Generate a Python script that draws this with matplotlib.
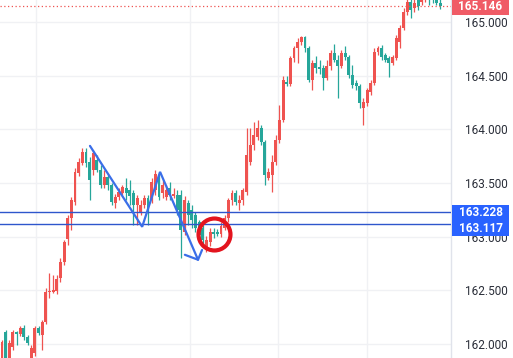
import matplotlib
matplotlib.use("Agg")
import matplotlib.pyplot as plt
import numpy as np
from matplotlib.transforms import blended_transform_factory
from matplotlib.patches import Rectangle

# ---------------- data (prices) ----------------
opens = [161.868, 162.111, 161.868, 161.971, 162.111, 162.092, 162.148, 162.064, 161.868, 161.915,
         162.148, 162.083, 162.204, 162.484, 162.484, 162.493, 162.614, 162.763, 162.978, 163.173,
         163.322, 163.593, 163.686, 163.788, 163.695, 163.621, 163.714, 163.621, 163.481, 163.555,
         163.481, 163.313, 163.369, 163.406, 163.453, 163.434, 163.406, 163.294, 163.229, 163.294,
         163.360, 163.341, 163.434, 163.565, 163.406, 163.369, 163.453, 163.378, 163.388, 163.388,
         163.043, 163.313, 163.248, 163.201, 163.136, 163.080, 162.894, 162.950, 163.043, 163.043,
         163.024, 163.080, 163.173, 163.341, 163.406, 163.313, 163.341, 163.416, 163.695, 163.854,
         163.928, 164.012, 163.882, 163.546, 163.574, 163.695, 163.900, 164.087, 164.441, 164.422,
         164.665, 164.758, 164.814, 164.860, 164.758, 164.459, 164.618, 164.581, 164.571, 164.478,
         164.590, 164.711, 164.646, 164.590, 164.711, 164.674, 164.506, 164.431, 164.404, 164.198,
         164.245, 164.348, 164.431, 164.720, 164.758, 164.693, 164.665, 164.618, 164.665, 164.814,
         164.944, 165.093, 165.186, 165.130, 165.205, 165.186, 165.252, 165.280, 165.233, 165.205,
         165.177]
closes = [162.018, 161.868, 162.008, 162.111, 162.092, 162.148, 162.064, 162.008, 161.962, 162.148,
          162.101, 162.204, 162.484, 162.493, 162.502, 162.605, 162.763, 162.950, 163.173, 163.341,
          163.602, 163.695, 163.788, 163.686, 163.527, 163.779, 163.621, 163.481, 163.555, 163.481,
          163.322, 163.369, 163.416, 163.462, 163.406, 163.378, 163.294, 163.360, 163.294, 163.360,
          163.229, 163.509, 163.583, 163.369, 163.481, 163.434, 163.388, 163.397, 163.248, 163.061,
          163.341, 163.201, 163.154, 163.080, 163.015, 162.968, 162.968, 163.043, 163.024, 163.024,
          163.098, 163.173, 163.341, 163.406, 163.322, 163.341, 163.434, 163.761, 163.854, 163.947,
          164.012, 163.882, 163.574, 163.602, 163.695, 163.900, 164.087, 164.459, 164.422, 164.665,
          164.758, 164.814, 164.860, 164.758, 164.459, 164.618, 164.571, 164.562, 164.478, 164.590,
          164.711, 164.646, 164.590, 164.711, 164.674, 164.506, 164.413, 164.404, 164.245, 164.254,
          164.366, 164.431, 164.720, 164.758, 164.674, 164.646, 164.618, 164.674, 164.851, 164.944,
          165.093, 165.186, 165.112, 165.177, 165.149, 165.205, 165.280, 165.224, 165.205, 165.177,
          165.146]
highs = [162.036, 162.129, 162.036, 162.129, 162.120, 162.167, 162.176, 162.083, 161.990, 162.167,
         162.167, 162.222, 162.521, 162.661, 162.642, 162.642, 162.800, 162.968, 163.201, 163.369,
         163.639, 163.733, 163.826, 163.826, 163.742, 163.807, 163.761, 163.667, 163.621, 163.574,
         163.499, 163.397, 163.453, 163.481, 163.546, 163.527, 163.434, 163.388, 163.341, 163.388,
         163.388, 163.546, 163.621, 163.602, 163.527, 163.481, 163.509, 163.453, 163.434, 163.434,
         163.378, 163.341, 163.294, 163.229, 163.154, 163.108, 163.005, 163.080, 163.080, 163.071,
         163.136, 163.201, 163.360, 163.434, 163.434, 163.388, 163.453, 164.012, 164.012, 164.068,
         164.087, 164.040, 163.900, 163.639, 163.761, 163.947, 164.226, 164.497, 164.497, 164.683,
         164.776, 164.851, 164.870, 164.870, 164.776, 164.646, 164.683, 164.646, 164.599, 164.646,
         164.739, 164.795, 164.693, 164.739, 164.776, 164.693, 164.599, 164.459, 164.422, 164.292,
         164.385, 164.459, 164.758, 164.776, 164.786, 164.711, 164.683, 164.693, 164.879, 164.972,
         165.130, 165.252, 165.252, 165.233, 165.252, 165.252, 165.345, 165.317, 165.280, 165.252,
         165.224]
lows = [161.831, 161.831, 161.831, 161.943, 161.990, 162.073, 162.036, 161.990, 161.831, 161.887,
        162.083, 161.943, 162.185, 162.428, 162.474, 162.465, 162.577, 162.735, 162.922, 163.061,
        163.294, 163.565, 163.667, 163.649, 163.341, 163.574, 163.602, 163.453, 163.453, 163.434,
        163.294, 163.266, 163.341, 163.388, 163.341, 163.294, 163.108, 163.108, 163.201, 163.266,
        163.108, 163.313, 163.388, 163.341, 163.360, 163.341, 163.341, 163.360, 163.201, 162.800,
        163.015, 163.108, 163.080, 163.043, 162.968, 162.922, 162.856, 162.912, 162.987, 163.005,
        162.996, 163.061, 163.136, 163.294, 163.294, 163.248, 163.294, 163.388, 163.667, 163.807,
        163.900, 163.854, 163.481, 163.527, 163.416, 163.667, 163.872, 164.068, 164.404, 164.404,
        164.627, 164.618, 164.786, 164.720, 164.441, 164.366, 164.525, 164.515, 164.366, 164.459,
        164.553, 164.627, 164.292, 164.571, 164.646, 164.478, 164.385, 164.366, 164.198, 164.040,
        164.217, 164.320, 164.413, 164.693, 164.646, 164.627, 164.487, 164.599, 164.646, 164.758,
        164.925, 165.065, 165.037, 165.093, 165.112, 165.158, 165.186, 165.158, 165.177, 165.158,
        165.121]

level_values = [163.228, 163.117]
last_price = 165.146
price_ticks = [162.0, 162.5, 163.0, 163.5, 164.0, 164.5, 165.0]
time_grid = [9.3, 51.5, 75.6, 100.0]

# zigzag drawing (candle index, price)
zig_x = [24.1, 38.4, 43.3, 53.7]
zig_y = [163.845, 163.091, 163.603, 162.784]
arrow_wing_x = [50.1, 53.7, 54.8]
arrow_wing_y = [162.830, 162.784, 162.875]
circle_x, circle_y = 58.1, 163.024

# ---------------- styling ----------------
UP = '#ef5350'      # rising candles are red in this chart
DOWN = '#26a69a'
BLUE = '#2962ff'
FONT = 'Roboto'

W, H, DPI = 513, 358, 100
fig = plt.figure(figsize=(W / DPI, H / DPI), dpi=DPI)
ax = fig.add_axes([0, 0, 451 / W, 1])
ax.set_facecolor('white')

n = len(opens)
xs = np.arange(n)
o = np.array(opens); c = np.array(closes); h = np.array(highs); l = np.array(lows)
up = c >= o
cols = np.where(up, UP, DOWN)

ax.vlines(xs, l, h, colors=cols, linewidth=0.9, zorder=3)
bottoms = np.minimum(o, c)
heights = np.maximum(np.abs(c - o), 0.008)
ax.bar(xs, heights, bottom=bottoms, width=0.8, color=cols, linewidth=0, zorder=4)

ax.set_xlim(-0.55, 123.0)
ax.set_ylim(161.868, 165.205)

# grid
for v in price_ticks:
    ax.axhline(v, color='#f0f1f4', linewidth=1.0, zorder=0)
for g in time_grid:
    ax.axvline(g, color='#f0f1f4', linewidth=1.0, zorder=0)

# horizontal levels
for v in level_values:
    ax.axhline(v, color='#2e56cc', linewidth=1.0, zorder=5)
# last price dotted line
ax.axhline(last_price, color=UP, linewidth=0.9, linestyle=(0, (1, 2)), zorder=5)

# zigzag + arrow
ax.plot(zig_x, zig_y, color='#3a6ee8', linewidth=1.6, zorder=6, solid_capstyle='round', solid_joinstyle='miter')
ax.plot(arrow_wing_x, arrow_wing_y, color='#3a6ee8', linewidth=1.6, zorder=6, solid_capstyle='round')
# red circle
ax.plot([circle_x], [circle_y], marker='o', markersize=23, markerfacecolor='none',
        markeredgecolor='#e3141e', markeredgewidth=3.0, zorder=7)

# axis styling
for s in ['top', 'left', 'bottom']:
    ax.spines[s].set_visible(False)
ax.spines['right'].set_color('#e0e3eb')
ax.spines['right'].set_linewidth(1.0)
ax.set_xticks([])
ax.yaxis.tick_right()
ax.set_yticks(price_ticks)
ax.set_yticklabels(['%.3f' % v for v in price_ticks], fontsize=8.5, family=FONT, color='#2a2e39')
ax.tick_params(axis='y', length=0, pad=10)

# price labels on the scale
tr = blended_transform_factory(ax.transAxes, ax.transData)
px = (165.205 - 161.868) / H  # price per pixel
x0 = 1.0 + 1 / 451
bw = 57 / 451

# blue combined label box
top_c = level_values[0]
bot_c = level_values[0] - 16 * px
ax.add_patch(Rectangle((x0, bot_c - 7.5 * px), bw, (top_c - bot_c) + 15 * px, transform=tr,
                       facecolor=BLUE, edgecolor='none', clip_on=False, zorder=10))
ax.text(x0 + bw / 2, top_c, '%.3f' % level_values[0], transform=tr, ha='center', va='center',
        fontsize=8.5, family=FONT, fontweight='bold', color='white', zorder=11, clip_on=False)
ax.text(x0 + bw / 2, bot_c, '%.3f' % level_values[1], transform=tr, ha='center', va='center',
        fontsize=8.5, family=FONT, fontweight='bold', color='white', zorder=11, clip_on=False)

# red last-price label
ax.add_patch(Rectangle((x0, last_price - 8.5 * px), bw, 17 * px, transform=tr,
                       facecolor='#f05b66', edgecolor='none', clip_on=False, zorder=10))
ax.text(x0 + bw / 2, last_price - 0.5 * px, '%.3f' % last_price, transform=tr, ha='center', va='center',
        fontsize=8.5, family=FONT, fontweight='bold', color='white', zorder=11, clip_on=False)

fig.savefig('out.png', dpi=DPI, facecolor='white')
